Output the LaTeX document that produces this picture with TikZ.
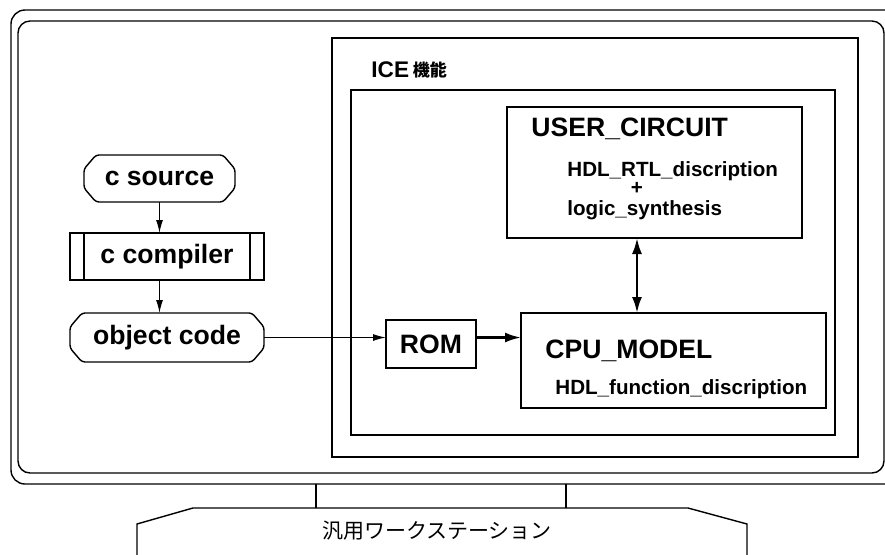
\documentclass[tikz,border=0pt]{standalone}
\usepackage{fontspec}
\setmainfont{Liberation Sans}
\newfontfamily\cjk{Noto Sans CJK JP}
\usetikzlibrary{arrows.meta,positioning,calc}
\newcommand\bigfont{\fontsize{13.3}{15}\selectfont\bfseries}
\newcommand\subfont{\fontsize{10.3}{12}\selectfont\bfseries}
\newcommand\octo[1]{\draw[line width=0.7pt,rounded corners=1.5pt]
  ([xshift=6pt]#1.north west) -- ([xshift=-6pt]#1.north east) -- ([yshift=-7pt]#1.north east)
  -- ([yshift=7pt]#1.south east) -- ([xshift=-6pt]#1.south east) -- ([xshift=6pt]#1.south west)
  -- ([yshift=7pt]#1.south west) -- ([yshift=-7pt]#1.north west) -- cycle;}

\begin{document}
\begin{tikzpicture}[x=0.5pt,y=-0.5pt,
  box/.style={draw,line width=0.7pt,inner sep=0pt,outer sep=0pt},
  prog/.style={inner sep=0pt,outer sep=0pt,minimum height=23.5pt,font=\bigfont},
  tag/.style={inner sep=0pt,anchor=west},
  arr/.style={-{Latex[length=6.5pt,width=3.5pt]},line width=0.6pt},
  bigarr/.style={-{Latex[length=8pt,width=5pt]},line width=1.2pt}]
\useasboundingbox (0,0) rectangle (885,554);
\clip (0,0) rectangle (885,554);
% workstation
\draw[line width=0.7pt,rounded corners=7pt] (11,10) rectangle (900,484);
\draw[line width=0.7pt,rounded corners=6pt] (18,21) rectangle (884,473);
\draw[line width=0.7pt] (316,484) -- (316,508) (566,484) -- (566,508);
\draw[line width=0.7pt] (137,560) -- (137,524) -- (193,508) -- (688,508) -- (747,524) -- (747,560);
\node[inner sep=0pt,font=\cjk\fontsize{10.5}{12}\selectfont] (ws) at (437,531) {汎用ワークステーション};
% ICE
\node[box,minimum width=263pt,minimum height=209.5pt] (ice) at (595,247.5) {};
\node[box,minimum width=242pt,minimum height=172.5pt] (core) at (593,262.5) {};
\node[tag,font=\fontsize{11.3}{13}\selectfont\bfseries] (icelbl) at (371,70) {ICE\,{\cjk\fontsize{8.5}{10}\selectfont\raisebox{0.6pt}{機能}}};
\node[box,minimum width=147.5pt,minimum height=65.5pt] (user) at (654.5,172.5) {};
\node[tag,font=\bigfont] (usert) at (531,129) {USER\_CIRCUIT};
\node[tag,font=\subfont] (rtl) at (567,171) {HDL\_RTL\_discription};
\node[inner sep=0pt,font=\subfont] (plus) at (637,188) {+};
\node[tag,font=\subfont] (syn) at (567,210) {logic\_synthesis};
\node[box,minimum width=152.5pt,minimum height=47.5pt] (cpu) at (673.5,360.5) {};
\node[tag,font=\bigfont] (cput) at (545,351) {CPU\_MODEL};
\node[tag,font=\subfont] (func) at (555,389) {HDL\_function\_discription};
\node[box,minimum width=45pt,minimum height=24pt,font=\bigfont] (rom) at (431,344) {ROM};
% program flow
\node[prog,minimum width=75.5pt] (src) at (159.5,178.5) {c source};
\octo{src}
\node[box,prog,minimum width=97pt] (cc) at (167,256.5) {c compiler};
\draw[line width=0.7pt] ([xshift=7pt]cc.north west) -- ([xshift=7pt]cc.south west)
  ([xshift=-7pt]cc.north east) -- ([xshift=-7pt]cc.south east);
\node[prog,minimum width=97pt,minimum height=24.5pt] (obj) at (167,337.5) {object code};
\octo{obj}
\draw[arr] (src.south) -- (src.south |- cc.north);
\draw[arr] (cc.south -| src) -- (obj.north -| src);
\draw[arr] (obj.east) -- (obj.east -| rom.west);
\draw[bigarr] (rom.east |- obj.east) -- (cpu.west |- obj.east);
\draw[bigarr,{Latex[length=8pt,width=5pt]}-{Latex[length=8pt,width=5pt]}] (user.south -| plus) -- (cpu.north -| plus);
\end{tikzpicture}
\end{document}
